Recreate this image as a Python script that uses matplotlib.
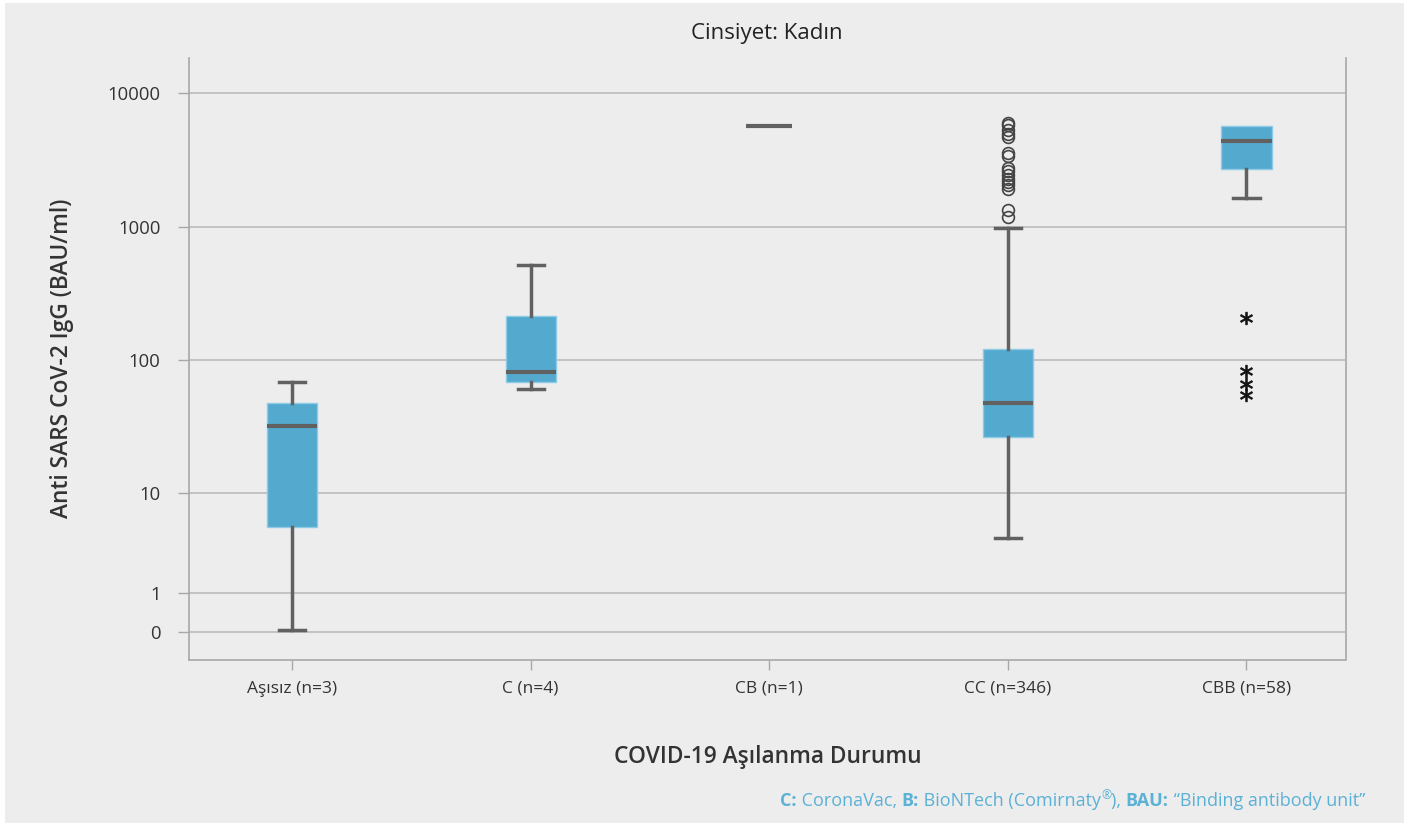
import numpy as np
import matplotlib
matplotlib.use("Agg")
import matplotlib.pyplot as plt
from matplotlib.patches import Rectangle

# ---------------- data ----------------
categories = ["Aşısız (n=3)", "C (n=4)", "CB (n=1)", "CC (n=346)", "CBB (n=58)"]
whislo = [0.05, 60.3, 5700, 3.57, 1634]
q1 = [4.6, 68.0, 5700, 26.6, 2712]
med = [32.2, 80.9, 5700, 47.9, 4430]
q3 = [47.6, 213, 5700, 121, 5665]
whishi = [68.4, 520, 5700, 973, 5665]
cc_outliers = [1183, 1344, 1932, 2045, 2165, 2296, 2430, 2620, 2775, 3377, 3574,
               4714, 4994, 5350, 5764, 6004]
cbb_extremes = [208, 82.7, 66.5, 54.4]
yticks = [0, 1, 10, 100, 1000, 10000]
ytick_labels = ["0", "1", "10", "100", "1000", "10000"]

title = "Cinsiyet: Kadın"
ylabel = "Anti SARS CoV-2 IgG (BAU/ml)"
xlabel = "COVID-19 Aşılanma Durumu"

# ---------------- styling ----------------
plt.rcParams['font.family'] = ['Open Sans', 'DejaVu Sans']
BG = '#ededed'
BOX = '#54a9cf'
DARK = '#616161'
TXT = '#333333'
GRID = '#bfbfbf'
SPINE = '#a8a8a8'
FOOT = '#5bb1d6'

W, H = 1423, 823
fig = plt.figure(figsize=(W / 100, H / 100), dpi=100)
fig.patch.set_facecolor('white')
fig.patches.append(Rectangle((5 / W, 0), (1404 - 5) / W, 1 - 3 / H,
                             transform=fig.transFigure, facecolor=BG,
                             edgecolor='none', zorder=-10))

ax = fig.add_axes([189 / W, 1 - 660 / H, (1345.5 - 189) / W, (660 - 58) / H])
ax.set_facecolor(BG)

# custom axis: 0..1 linear, 1..10 compressed log, >=10 log
A = 0.2926
def fwd(v):
    v = np.asarray(v, dtype=float)
    lv = np.log10(np.clip(v, 1e-12, None))
    return np.where(v < 1, v * A, np.where(v < 10, A + 0.75 * lv, A + 0.75 + lv - 1))

def inv(t):
    t = np.asarray(t, dtype=float)
    tt = np.clip(t, -50, 50)
    return np.where(tt < A, tt / A,
                    np.where(tt < A + 0.75, 10 ** ((tt - A) / 0.75), 10 ** (tt - A - 0.75 + 1)))

ax.set_yscale('function', functions=(fwd, inv))

pos = np.arange(len(categories))
stats = []
for i in range(len(categories)):
    d = dict(whislo=whislo[i], q1=q1[i], med=med[i], q3=q3[i], whishi=whishi[i],
             fliers=cc_outliers if categories[i].startswith("CC") else [])
    stats.append(d)

art = ax.bxp(stats, positions=pos, widths=0.21, capwidths=0.11, patch_artist=True,
             boxprops=dict(facecolor=BOX, edgecolor='#8ccbe6', linewidth=1.0),
             medianprops=dict(color=DARK, linewidth=3),
             whiskerprops=dict(color=DARK, linewidth=2.5),
             capprops=dict(color=DARK, linewidth=2.5),
             flierprops=dict(marker='o', markerfacecolor='none', markeredgecolor='#444444',
                             markersize=8.5, markeredgewidth=1.2),
             zorder=3)

# single-observation group: only the median line; CBB has no upper whisker
for i in range(len(categories)):
    if q1[i] == q3[i]:
        art['boxes'][i].set_visible(False)
        for k in (2 * i, 2 * i + 1):
            art['whiskers'][k].set_visible(False)
            art['caps'][k].set_visible(False)
        art['medians'][i].set_xdata([pos[i] - 0.096, pos[i] + 0.096])
    if whishi[i] <= q3[i]:
        art['caps'][2 * i + 1].set_visible(False)
        art['whiskers'][2 * i + 1].set_visible(False)

ax.plot([4] * len(cbb_extremes), cbb_extremes, linestyle='none', marker='$*$',
        color='#111111', markersize=9, markeredgewidth=0.6, zorder=4)

ax.set_xlim(-0.432, 4.415)
ax.set_ylim(-0.71, 18440)
ax.set_yticks(yticks)
ax.set_yticklabels(ytick_labels)
ax.yaxis.set_minor_locator(matplotlib.ticker.NullLocator())
ax.set_xticks(pos)
ax.set_xticklabels(categories)

ax.grid(axis='y', color=GRID, linewidth=1.3, zorder=0)
ax.set_axisbelow(True)

for s in ['left', 'right', 'bottom']:
    ax.spines[s].set_color(SPINE)
    ax.spines[s].set_linewidth(1.2)
ax.spines['top'].set_visible(False)

ax.tick_params(axis='y', length=8, width=1, color=SPINE, pad=12.4, labelsize=13.3,
               labelcolor=TXT)
ax.tick_params(axis='x', length=7.5, width=1, color=SPINE, pad=7.5, labelsize=12.5,
               labelcolor=TXT)

fig.text(767 / W, 1 - 33 / H, title, ha='center', va='center', fontsize=16,
         color='#222222', fontweight='medium')
fig.text(62 / W, 1 - 358 / H, ylabel, ha='center', va='center', rotation=90,
         fontsize=16.4, color=TXT, fontweight='semibold')
fig.text(768 / W, 1 - 757 / H, xlabel, ha='center', va='center', fontsize=16.4,
         color=TXT, fontweight='semibold')

# footnote with mixed weights, right-aligned at x=1365
FS = 13.0
pieces = [("C:", 'bold', FS, 0), (" CoronaVac, ", 'normal', FS, 0),
          ("B:", 'bold', FS, 0), (" BioNTech (Comirnaty", 'normal', FS, 0),
          ("®", 'normal', 8.8, 7), ("), ", 'normal', FS, 0),
          ("BAU:", 'bold', FS, 0), (" “Binding antibody unit”", 'normal', FS, 0)]
renderer = fig.canvas.get_renderer()
texts = []
x = 0.0
base_y = 1 - 806 / H
for s, wgt, fs, rise in pieces:
    t = fig.text(x / W, base_y + rise / H, s, ha='left', va='baseline', fontsize=fs,
                 fontweight=wgt, color=FOOT)
    w = t.get_window_extent(renderer).width
    texts.append((t, x, rise))
    x += w
shift = 1365 - x
for t, x0, rise in texts:
    t.set_position(((x0 + shift) / W, base_y + rise / H))

fig.savefig("out.png", dpi=100, facecolor=fig.get_facecolor())
